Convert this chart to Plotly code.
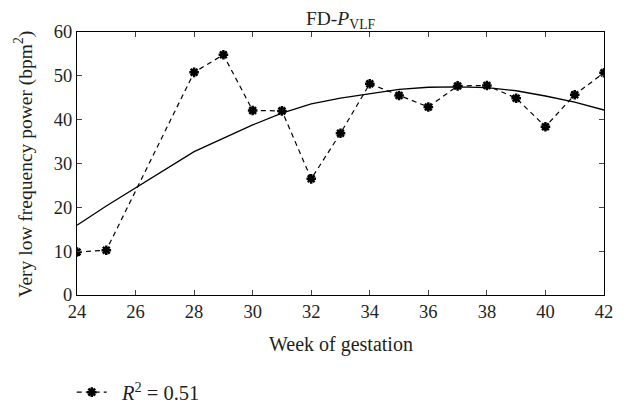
import plotly.graph_objects as go

weeks = [24, 25, 28, 29, 30, 31, 32, 33, 34, 35, 36, 37, 38, 39, 40, 41, 42]
vlf_power = [9.8, 10.2, 50.8, 54.8, 42.1, 42.0, 26.5, 36.9, 48.2, 45.5, 42.9, 47.7, 47.8, 44.9, 38.4, 45.7, 50.7]
fit_curve = [15.9, 20.3, 32.7, 35.8, 38.8, 41.5, 43.6, 44.9, 45.9, 46.9, 47.4, 47.5, 47.3, 46.6, 45.4, 44.0, 42.2]
x_ticks = [24, 26, 28, 30, 32, 34, 36, 38, 40, 42]
y_ticks = [0, 10, 20, 30, 40, 50, 60]

font_family = "Liberation Serif"

fig = go.Figure()
fig.add_trace(go.Scatter(
    x=weeks, y=fit_curve, mode="lines",
    line=dict(color="black", width=1.3),
    showlegend=False, hoverinfo="skip"))
fig.add_trace(go.Scatter(
    x=weeks, y=vlf_power, mode="lines+markers",
    line=dict(color="black", width=1.2, dash="5px,4px"),
    marker=dict(symbol="asterisk-open", size=8, color="black",
                line=dict(color="black", width=2.5)),
    name="&nbsp;&nbsp;<i>R</i><sup>2</sup> = 0.51"))

fig.add_annotation(
    text="Very low frequency power (bpm<sup>2</sup>)",
    xref="paper", yref="paper", x=-0.1006, y=0.5,
    xanchor="center", yanchor="middle", textangle=-90,
    showarrow=False, font=dict(size=19.5))

fig.add_annotation(
    text="Week of gestation",
    xref="paper", yref="paper", x=0.5, y=-0.189,
    xanchor="center", yanchor="middle",
    showarrow=False, font=dict(size=20))

fig.update_layout(
    width=630, height=408,
    margin=dict(l=77, r=26, t=32, b=113, autoexpand=False),
    paper_bgcolor="white", plot_bgcolor="white",
    font=dict(family=font_family, size=18, color="#231f20"),
    title=dict(text="FD-<i>P</i><sub>VLF</sub>", x=0.5, xref="paper",
               xanchor="center", y=0.955, yanchor="middle",
               font=dict(size=19.5)),
    showlegend=True,
    legend=dict(orientation="h", x=-0.01, xanchor="left", y=-0.37, yanchor="middle",
                font=dict(size=20.5), bgcolor="rgba(0,0,0,0)"),
    xaxis=dict(range=[24, 42], tickvals=x_ticks, ticks="inside", ticklen=5,
               showline=True, linecolor="black", linewidth=1, mirror="ticks",
               showgrid=False, zeroline=False, automargin=False,
               tickfont=dict(size=18.5)),
    yaxis=dict(range=[0, 60], tickvals=y_ticks, ticks="inside", ticklen=5,
               showline=True, linecolor="black", linewidth=1, mirror="ticks",
               showgrid=False, zeroline=False, automargin=False,
               tickfont=dict(size=18.5)),
)

fig.write_html("out.html", post_script="document.body.style.margin='0';",
               config={"displayModeBar": False})
